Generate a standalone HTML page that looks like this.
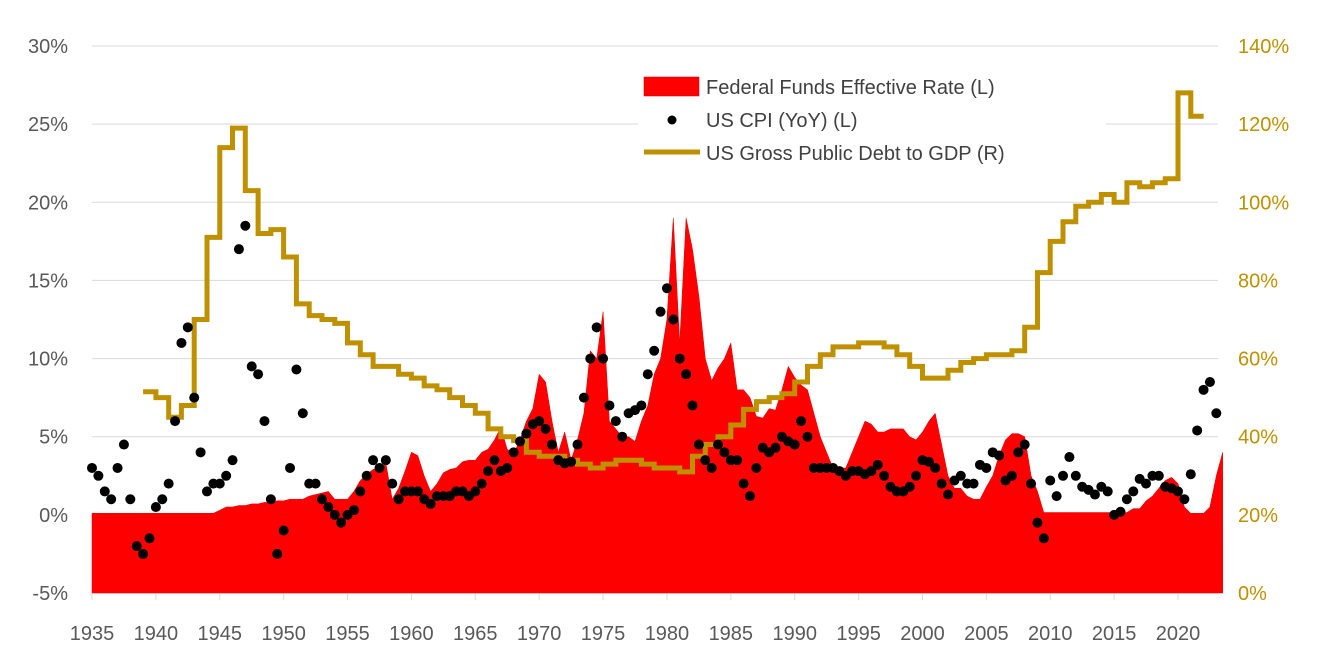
<!DOCTYPE html>
<html><head><meta charset="utf-8"><style>
body{margin:0;background:#fff;}
svg{display:block;font-family:"Liberation Sans",sans-serif;}
</style></head><body>
<svg id="chart" width="1318" height="658"></svg>
<script>
const cpiStart = 1935;
const cpiValues = [3,2.5,1.5,1,3,4.5,1,-2,-2.5,-1.5,0.5,1,2,6,11,12,7.5,4,1.5,2,2,2.5,3.5,17,18.5,9.5,9,6,1,-2.5,-1,3,9.3,6.5,2,2,1,0.5,0,-0.5,0,0.3,1.5,2.5,3.5,3,3.5,2,1,1.5,1.5,1.5,1,0.7,1.2,1.2,1.2,1.5,1.5,1.2,1.5,2,2.8,3.5,2.8,3,4,4.7,5.2,5.8,6,5.5,4.5,3.5,3.3,3.4,4.5,7.5,10,12,10,7,6,5,6.5,6.7,7,9,10.5,13,14.5,12.5,10,9,7,4.5,3.5,3,4.5,4,3.5,3.5,2,1.2,3,4.3,4,4.3,5,4.7,4.5,6,5,3,3,3,3,2.8,2.5,2.8,2.8,2.6,2.8,3.2,2.5,1.8,1.5,1.5,1.8,2.5,3.5,3.4,3,2,1.3,2.2,2.5,2,2,3.2,3,4,3.8,2.2,2.5,4,4.5,2,-0.5,-1.5,2.2,1.2,2.5,3.7,2.5,1.8,1.6,1.3,1.8,1.5,0,0.2,1,1.5,2.3,2,2.5,2.5,1.8,1.7,1.5,1,2.6,5.4,8,8.5,6.5];
const fedStart = 1935;
const fedValues = [0.1,0.1,0.1,0.1,0.1,0.1,0.1,0.1,0.1,0.1,0.1,0.1,0.1,0.1,0.1,0.1,0.1,0.1,0.1,0.1,0.3,0.5,0.5,0.6,0.6,0.7,0.7,0.8,0.8,0.9,0.9,1,1,1,1.2,1.3,1.4,1.5,1,1,1,1.5,2.2,2.6,2.9,3,3.3,1,1.7,2.8,4,3.8,2.5,1.5,2,2.7,2.9,3,3.4,3.5,3.5,4,4.2,4.8,5.6,4.2,3.9,4.8,6,6.8,9,8.5,6,4,5.3,3.5,4.8,6.5,10.5,10,13,6,5.5,5,5,4.7,6,7,9,10,12.5,19,11,19,17,14,10,8.6,9.4,10,11,8,8,7.5,6.3,6.2,6.8,6.7,8,9.5,8.8,8.3,8,6.5,5,4,3,3,3,4,5,6,5.8,5.3,5.3,5.5,5.5,5.5,5,4.8,5.3,6,6.5,4.5,2.5,1.7,1.7,1.2,1,1,1.8,2.5,3.8,4.8,5.2,5.2,5,2.5,1.5,0.15,0.15,0.15,0.15,0.15,0.15,0.15,0.15,0.15,0.15,0.15,0.15,0.15,0.15,0.4,0.4,0.9,1.2,1.7,2.2,2.4,2,0.5,0.1,0.1,0.1,0.5,2.5,4];
const debtStart = 1939;
const debtValues = [51.5,50,45,48,70,91,114,119,103,92,93,86,74,71,70,69,64,61,58,58,56,55,53,52,50,48,46,42,40,39,36,35,35,34,33,32,33,34,34,33,32,32,31,35,38,40,43,47,49,50,51,54,58,61,63,63,64,64,63,61,58,55,55,57,59,60,61,61,62,68,82,90,95,99,100,102,100,105,104,105,106,128,122];
const leftTicks = [-5,0,5,10,15,20,25,30];
const rightTicks = [0,20,40,60,80,100,120,140];
const xTicks = [1935,1940,1945,1950,1955,1960,1965,1970,1975,1980,1985,1990,1995,2000,2005,2010,2015,2020];

const NS="http://www.w3.org/2000/svg";
const svg=document.getElementById('chart');
const X0=92,X1=1178,Y0=593,Y1=46;
const xs=y=>X0+(y-1935)*(X1-X0)/85;
const yl=v=>Y0+(v+5)*(Y1-Y0)/35;
const yr=v=>Y0+v*(Y1-Y0)/140;
function el(t,a,p){const e=document.createElementNS(NS,t);for(const k in a)e.setAttribute(k,a[k]);(p||svg).appendChild(e);return e;}

leftTicks.forEach(v=>{
  const l=el('line',{x1:X0,x2:1218,y1:yl(v),y2:yl(v),stroke:'#d9d9d9','stroke-width':1});
  
  
  const t=el('text',{x:68,y:yl(v)+7,'text-anchor':'end','font-size':20,fill:'#595959'});
  t.textContent=v+'%';
  
  
});
rightTicks.forEach(v=>{
  const t=el('text',{x:1238,y:yr(v)+7,'font-size':20,fill:'#bf9000'});
  t.textContent=v+'%';
  
  
});
xTicks.forEach(v=>{
  const m=el('line',{x1:xs(v),x2:xs(v),y1:593,y2:600,stroke:'#d9d9d9','stroke-width':1});
  
  
  const t=el('text',{x:xs(v),y:640,'text-anchor':'middle','font-size':20,fill:'#595959'});
  t.textContent=v;
  
  
});

// fed funds area
let d='M'+xs(fedStart)+','+Y0;
fedValues.forEach((v,i)=>{d+=' L'+xs(fedStart+i*0.5).toFixed(1)+','+yl(v).toFixed(1);});
d+=' L'+xs(fedStart+(fedValues.length-1)*0.5)+','+Y0+' Z';
const area=el('path',{d:d,fill:'#ff0000',stroke:'#e00000','stroke-width':0.5});



// debt step line
let dd='';
debtValues.forEach((v,i)=>{
  const x0=xs(debtStart+i),x1=xs(debtStart+i+1),y=yr(v);
  dd+=(i?' L':'M')+x0.toFixed(1)+','+y.toFixed(1)+' L'+x1.toFixed(1)+','+y.toFixed(1);
});
const debt=el('path',{d:dd,fill:'none',stroke:'#bf9000','stroke-width':5});



// cpi dots
const g=el('g',{});


cpiValues.forEach((v,i)=>{
  const c=el('circle',{cx:xs(cpiStart+i*0.5),cy:yl(v),r:5,fill:'#000'},g);
  
  
});

// legend
const lg=el('g',{});


el('rect',{x:638,y:68,width:468,height:102,fill:'#fff'},lg);
el('rect',{x:644,y:77,width:55,height:19,fill:'#ff0000',stroke:'#c00000','stroke-width':0.5},lg);
el('circle',{cx:672,cy:120,r:4.5,fill:'#000'},lg);
el('line',{x1:644,x2:700,y1:152,y2:152,stroke:'#bf9000','stroke-width':5},lg);
[['Federal Funds Effective Rate (L)',94],['US CPI (YoY) (L)',127],['US Gross Public Debt to GDP (R)',160]].forEach(([s,y])=>{
  const t=el('text',{x:706,y:y,'font-size':20,fill:'#404040'},lg);
  t.textContent=s;
  
  
});
</script>
</body></html>
